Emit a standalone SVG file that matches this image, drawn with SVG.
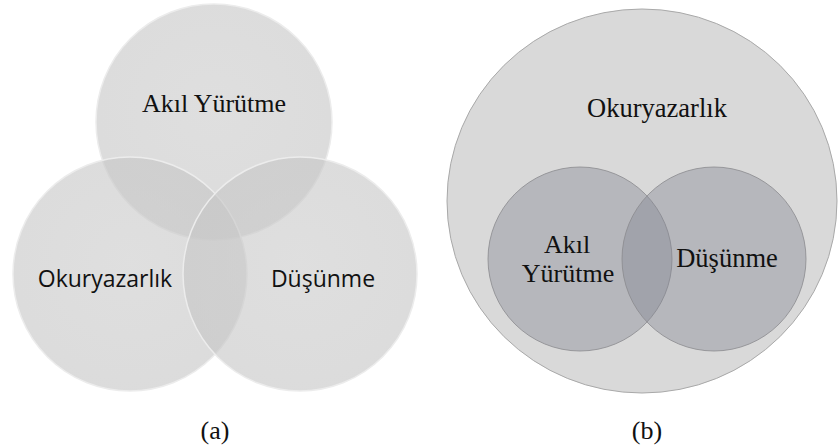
<svg xmlns="http://www.w3.org/2000/svg" width="838" height="446" viewBox="0 0 838 446">
<defs>
<radialGradient id="ga" cx="50%" cy="45%" r="55%">
<stop offset="0" stop-color="#cbcbcb"/>
<stop offset="1" stop-color="#c6c6c6"/>
</radialGradient>
</defs>
<style>
.ca{fill:url(#ga);fill-opacity:0.62;stroke:#ececec;stroke-width:1.5}
.cout{fill:#d9d9d9;stroke:#a9a9a9;stroke-width:1}
.cin{fill:#838490;fill-opacity:0.4;stroke:#8a8a8e;stroke-width:0.8}
.serif{font-family:"Liberation Serif","Times New Roman",serif;fill:#111}
.sans{font-family:"Open Sans","Noto Sans",sans-serif;fill:#111}
</style>
<rect width="838" height="446" fill="#ffffff"/>
<g id="panel-a">
<g id="a-akil"><circle class="ca" cx="214" cy="122" r="118"/></g>
<g id="a-okur"><circle class="ca" cx="130" cy="274" r="117"/></g>
<g id="a-dus"><circle class="ca" cx="300" cy="274" r="117"/></g>
<text class="serif" x="214" y="112" font-size="26" text-anchor="middle">Akıl Yürütme</text>
<text class="sans" x="105" y="287" font-size="23" text-anchor="middle">Okuryazarlık</text>
<text class="sans" x="323" y="287" font-size="23" text-anchor="middle">Düşünme</text>
<text class="serif" x="215" y="439" font-size="26" text-anchor="middle">(a)</text>
</g>
<g id="panel-b">
<g id="b-okur"><ellipse class="cout" cx="642" cy="201" rx="195" ry="192"/>
<text class="serif" x="657" y="117" font-size="26.5" text-anchor="middle">Okuryazarlık</text></g>
<g id="b-akil"><circle class="cin" cx="580" cy="259" r="92"/></g>
<g id="b-dus"><circle class="cin" cx="714" cy="259" r="92"/></g>
<text class="serif" x="567" y="253" font-size="26" text-anchor="middle">Akıl</text>
<text class="serif" x="568" y="282" font-size="26" text-anchor="middle">Yürütme</text>
<text class="serif" x="727" y="267" font-size="26.5" text-anchor="middle">Düşünme</text>
<text class="serif" x="647" y="439" font-size="26" text-anchor="middle">(b)</text>
</g>
<g id="connectors"/>
</svg>
